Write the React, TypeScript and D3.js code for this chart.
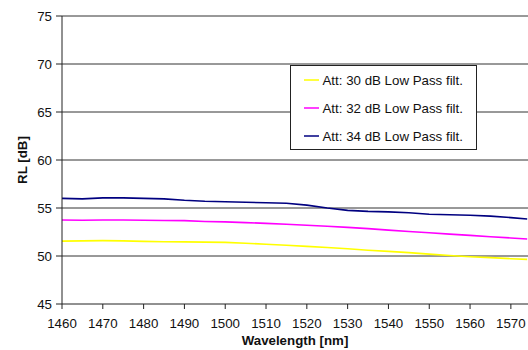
import React from "react";
import * as d3 from "d3";

const wavelengths = [1460,1465,1470,1475,1480,1485,1490,1495,1500,1505,1510,1515,1520,1525,1530,1535,1540,1545,1550,1555,1560,1565,1570,1574];
const att30 = [51.55,51.58,51.6,51.58,51.52,51.48,51.47,51.45,51.42,51.33,51.22,51.12,51.0,50.88,50.75,50.6,50.48,50.35,50.2,50.05,49.92,49.83,49.72,49.65];
const att32 = [53.75,53.72,53.75,53.75,53.72,53.7,53.68,53.6,53.55,53.48,53.4,53.3,53.2,53.1,52.98,52.85,52.7,52.55,52.42,52.28,52.15,52.0,51.88,51.77];
const att34 = [56.0,55.95,56.05,56.05,56.0,55.95,55.8,55.7,55.65,55.6,55.55,55.5,55.3,55.0,54.75,54.65,54.6,54.5,54.35,54.3,54.25,54.15,54.0,53.85];
const seriesNames = ["Att: 30 dB Low Pass filt.","Att: 32 dB Low Pass filt.","Att: 34 dB Low Pass filt."];
const seriesColors = ["#FFFF00","#FF00FF","#000080"];
const xTicks = [1460,1470,1480,1490,1500,1510,1520,1530,1540,1550,1560,1570];
const yTicks = [45,50,55,60,65,70,75];

export default function App() {
  const left = 62, right = 528, top = 16, bottom = 304;
  const x = d3.scaleLinear().domain([1460, 1574.2]).range([left, right]);
  const y = d3.scaleLinear().domain([45, 75]).range([bottom, top]);
  const series = [att30, att32, att34];
  const line = (vals: number[]) =>
    d3.line<number>().x((_, i) => x(wavelengths[i])).y((v) => y(v))(vals) || "";
  const font = "'Liberation Sans', Arial, sans-serif";
  const fs = 13.3;
  return (
    <>
      <style>{"body{margin:0}"}</style>
      <svg width={528} height={350} style={{ display: "block", fontFamily: font }}>
        <rect width={528} height={350} fill="#fff" />
        {yTicks.filter((t) => t > 45).map((t) => (
          <line key={t} x1={left} x2={right} y1={y(t)} y2={y(t)} stroke="#333" strokeWidth={1} />
        ))}
        {series.map((s, i) => (
          <path key={i} d={line(s)} fill="none" stroke={seriesColors[i]} strokeWidth={1.6} />
        ))}
        <line x1={left} x2={left} y1={top} y2={bottom} stroke="#222" />
        <line x1={left} x2={right} y1={bottom} y2={bottom} stroke="#222" />
        {yTicks.map((t) => (
          <g key={t}>
            <line x1={left - 6} x2={left} y1={y(t)} y2={y(t)} stroke="#222" />
            <text x={left - 10} y={y(t)} dy="0.36em" textAnchor="end" fontSize={fs} fill="#111">{t}</text>
          </g>
        ))}
        {xTicks.map((t) => (
          <g key={t}>
            <line x1={x(t)} x2={x(t)} y1={bottom} y2={bottom + 5} stroke="#222" />
            <text x={x(t)} y={bottom + 24} textAnchor="middle" fontSize={fs} fill="#111">{t}</text>
          </g>
        ))}
        <text x={(left + right) / 2} y={345} textAnchor="middle" fontSize={fs} fontWeight="bold" fill="#111">Wavelength [nm]</text>
        <text transform={`translate(27,${(top + bottom) / 2}) rotate(-90)`} textAnchor="middle" fontSize={fs} fontWeight="bold" fill="#111">RL [dB]</text>
        <rect x={290.5} y={65.5} width={186} height={84} fill="#fff" stroke="#222" />
        {seriesNames.map((n, i) => (
          <g key={n}>
            <line x1={304} x2={319} y1={80 + i * 28} y2={80 + i * 28} stroke={seriesColors[i]} strokeWidth={1.5} />
            <text x={322.5} y={80 + i * 28} dy="0.36em" fontSize={fs} fill="#111">{n}</text>
          </g>
        ))}
      </svg>
    </>
  );
}
